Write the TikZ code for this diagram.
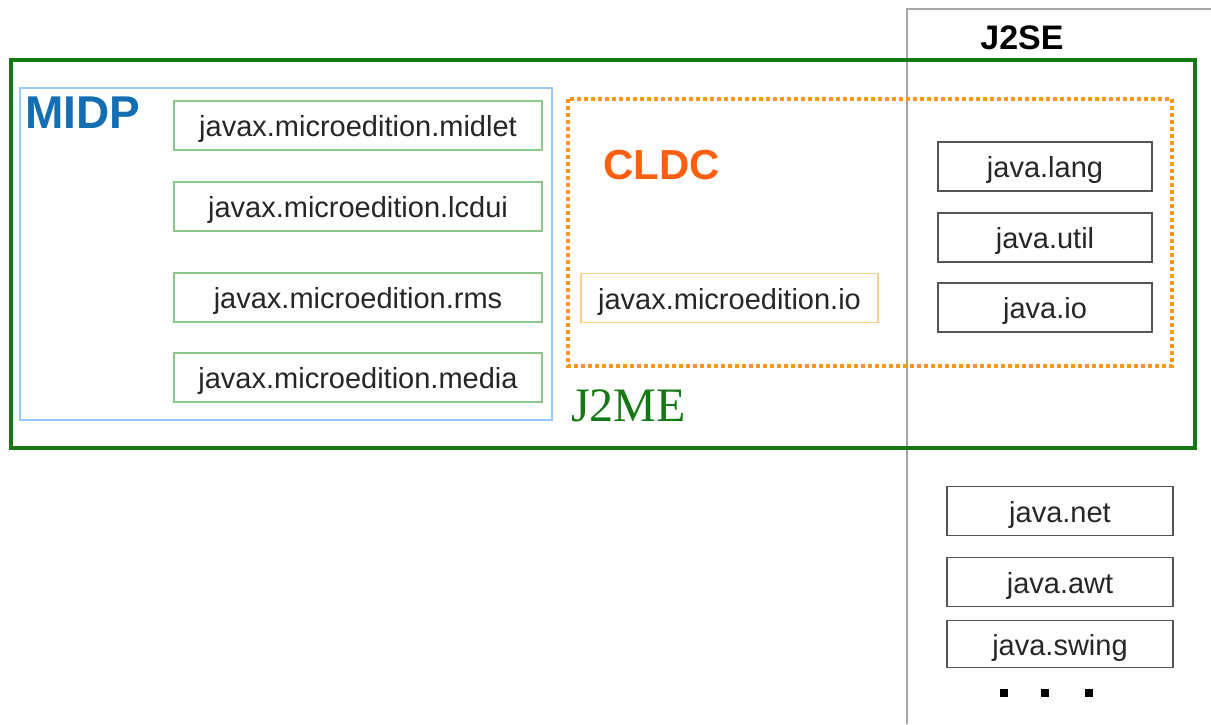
\documentclass[tikz,border=0pt]{standalone}
\usepackage{fontspec}
\setmainfont{Liberation Sans}
\newfontfamily\jmeserif{Liberation Serif}
\usetikzlibrary{positioning}
\definecolor{megreen}{RGB}{20,120,20}
\definecolor{pkggreen}{RGB}{140,200,140}
\definecolor{midpblue}{RGB}{150,200,250}
\definecolor{midptext}{RGB}{20,110,180}
\definecolor{cldcorange}{RGB}{255,150,30}
\definecolor{cldctext}{RGB}{255,95,15}
\definecolor{ioorange}{RGB}{255,205,140}
\definecolor{segray}{RGB}{165,165,165}
\definecolor{pkgdark}{RGB}{85,85,85}
\tikzstyle{midpkg} = [rectangle, minimum width=368pt, minimum height=49pt, inner sep=0pt, text height=22pt, text depth=0pt, draw=pkggreen, line width=1.5pt, text=black!85, font=\fontsize{29}{31}\selectfont]
\tikzstyle{iopkg} = [midpkg, minimum width=297pt, draw=ioorange]
\tikzstyle{sepkg} = [midpkg, minimum width=214pt, draw=pkgdark]
\tikzstyle{extpkg} = [sepkg, minimum width=226pt]
\tikzstyle{biglabel} = [inner sep=0pt, font=\fontsize{42}{44}\selectfont\bfseries]

\begin{document}
\begin{tikzpicture}[x=1pt, y=-1pt, node distance=81pt]
			\useasboundingbox (0,0) rectangle (1211,724);
			
			% J2SE area (open to the right and bottom)
			\draw [segray, line width=1.5pt] (907,724) -- (907,9) -- (1211,9);
			\node (j2se_label) [biglabel, font=\fontsize{34}{36}\selectfont\bfseries] at (1022,38) {J2SE};
			
			% J2ME frame
			\draw [megreen, line width=4pt] (11,60) rectangle (1195,448);
			\node (j2me_label) [inner sep=0pt, anchor=west, text=megreen, font=\fontsize{48}{50}\selectfont\jmeserif] at (571,406) {J2ME};
			
			% MIDP
			\draw [midpblue, line width=1.5pt] (20,88) rectangle (552,420);
			\node (midp_label) [biglabel, anchor=west, text=midptext, font=\fontsize{46}{48}\selectfont\bfseries] at (25,113) {MIDP};
			
			\node (midlet) [midpkg] at (358,125.5) {javax.microedition.midlet};
			
			\node (lcdui) [midpkg, below of=midlet] {javax.microedition.lcdui};
			
			\node (rms) [midpkg, below of=lcdui, yshift=-10pt] {javax.microedition.rms};
			
			\node (media) [midpkg, below of=rms, yshift=1pt] {javax.microedition.media};
			
			% CLDC
			\draw [cldcorange, line width=4pt, dash pattern=on 4pt off 3pt] (568,99) rectangle (1172,366);
			\node (cldc_label) [biglabel, anchor=west, text=cldctext] at (603,165) {CLDC};
			
			\node (micro_io) [iopkg] at (729.5,298) {javax.microedition.io};
			
			\node (lang) [sepkg] at (1045,166.5) {java.lang};
			
			\node (util) [sepkg, below of=lang, yshift=10pt] {java.util};
			
			\node (io) [sepkg, below of=util, yshift=11pt] {java.io};
			
			% rest of J2SE
			\node (net) [extpkg] at (1060,511) {java.net};
			
			\node (awt) [extpkg, below of=net, yshift=10pt] {java.awt};
			
			\node (swing) [extpkg, below of=awt, yshift=19pt, minimum height=47pt] {java.swing};
			
			\foreach \x in {1004,1045,1089}
				\fill [black] (\x-4,689) rectangle ++(8,8);
			
		\end{tikzpicture}
\end{document}
